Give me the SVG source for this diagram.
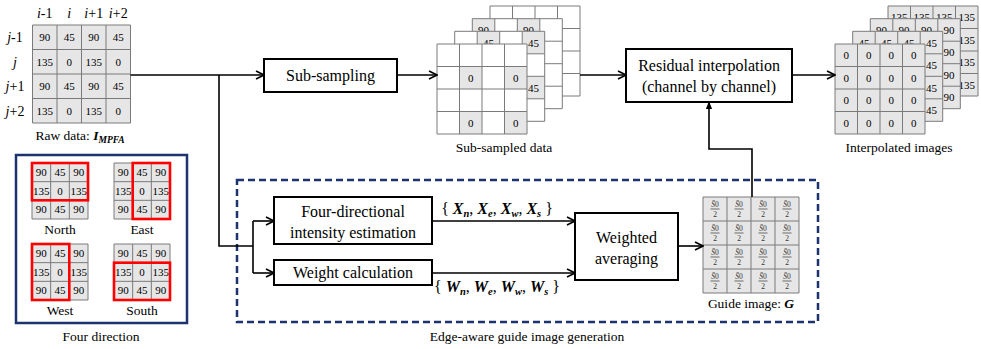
<svg xmlns="http://www.w3.org/2000/svg" xmlns:xlink="http://www.w3.org/1999/xlink" width="981" height="349" viewBox="0 0 981 349" font-family="'Liberation Serif', 'Times New Roman', serif">
<style>
text{font-family:"Liberation Serif","Times New Roman",serif;fill:#000}
.box{fill:#fff;stroke:#000;stroke-width:2}
.lbl{font-size:16px;text-anchor:middle}
.cap{font-size:13.5px;text-anchor:middle}
.num{font-size:11px;text-anchor:middle}
.it{font-style:italic}
.bi{font-style:italic;font-weight:bold}
.gcell{fill:#e6e6e6}
.gl{fill:none;stroke:#7a7a7a;stroke-width:1}
.wire{fill:none;stroke:#000;stroke-width:1.6}
.red{fill:none;stroke:#ff0000;stroke-width:2.6}
.navy{fill:none;stroke:#1c3370;stroke-width:2.5}
.frac{font-size:7.5px;text-anchor:middle;fill:#333}
</style>
<defs>
<marker id="ah" viewBox="0 0 10 10" refX="9" refY="5" markerWidth="10" markerHeight="10" markerUnits="userSpaceOnUse" orient="auto"><path d="M1,1 L9,5 L1,9" fill="none" stroke="#000" stroke-width="1.6"/></marker>
<marker id="ahf" viewBox="0 0 10 10" refX="9" refY="5" markerWidth="8" markerHeight="8" markerUnits="userSpaceOnUse" orient="auto"><path d="M0,1 L10,5 L0,9 z" fill="#000"/></marker>
<g id="g3">
<rect x="0" y="0" width="56" height="56" class="gcell"/>
<path class="gl" d="M0,0 H56 V56 H0 Z M18.67,0 V56 M37.33,0 V56 M0,18.67 H56 M0,37.33 H56"/>
<text class="num" x="9.33" y="13">90</text><text class="num" x="28" y="13">45</text><text class="num" x="46.67" y="13">90</text>
<text class="num" x="9.33" y="31.7">135</text><text class="num" x="28" y="31.7">0</text><text class="num" x="46.67" y="31.7">135</text>
<text class="num" x="9.33" y="50.3">90</text><text class="num" x="28" y="50.3">45</text><text class="num" x="46.67" y="50.3">90</text>
</g>
<path id="lines4" class="gl" d="M0,0 H90 V90 H0 Z M22.5,0 V90 M45,0 V90 M67.5,0 V90 M0,22.5 H90 M0,45 H90 M0,67.5 H90"/>
<g id="frac">
<text class="frac" x="0" y="-2.5"><tspan class="it">S̄</tspan>0</text>
<path d="M-4.5,0 H4.5" stroke="#333" stroke-width="0.7"/>
<text class="frac" x="0" y="8">2</text>
</g>
</defs>

<!-- Raw data -->
<g id="raw">
<rect x="32.5" y="25" width="98" height="98" class="gcell"/>
<path class="gl" d="M32.5,25 H130.5 V123 H32.5 Z M57,25 V123 M81.5,25 V123 M106,25 V123 M32.5,49.5 H130.5 M32.5,74 H130.5 M32.5,98.5 H130.5"/>
<g font-size="14" text-anchor="middle">
<text x="44.75" y="18"><tspan class="it">i</tspan>-1</text>
<text x="69.25" y="18" class="it">i</text>
<text x="93.75" y="18"><tspan class="it">i</tspan>+1</text>
<text x="118.25" y="18"><tspan class="it">i</tspan>+2</text>
<text x="15" y="42"><tspan class="it">j</tspan>-1</text>
<text x="15" y="66.5" class="it">j</text>
<text x="15" y="91"><tspan class="it">j</tspan>+1</text>
<text x="15" y="115.5"><tspan class="it">j</tspan>+2</text>
</g>
<text class="num" x="44.75" y="41.25">90</text><text class="num" x="69.25" y="41.25">45</text><text class="num" x="93.75" y="41.25">90</text><text class="num" x="118.25" y="41.25">45</text>
<text class="num" x="44.75" y="65.75">135</text><text class="num" x="69.25" y="65.75">0</text><text class="num" x="93.75" y="65.75">135</text><text class="num" x="118.25" y="65.75">0</text>
<text class="num" x="44.75" y="90.25">90</text><text class="num" x="69.25" y="90.25">45</text><text class="num" x="93.75" y="90.25">90</text><text class="num" x="118.25" y="90.25">45</text>
<text class="num" x="44.75" y="114.75">135</text><text class="num" x="69.25" y="114.75">0</text><text class="num" x="93.75" y="114.75">135</text><text class="num" x="118.25" y="114.75">0</text>
<text class="cap" x="80" y="140">Raw data: <tspan class="bi">I</tspan><tspan class="bi" font-size="9.5" dy="3">MPFA</tspan></text>
</g>

<!-- Four direction -->
<g id="fourdir">
<rect x="16" y="155" width="171" height="168" class="navy"/>
<use xlink:href="#g3" x="32" y="163"/>
<use xlink:href="#g3" x="114" y="163"/>
<use xlink:href="#g3" x="32" y="244"/>
<use xlink:href="#g3" x="114" y="244"/>
<rect class="red" x="32" y="163" width="56" height="37.3"/>
<rect class="red" x="132.7" y="163" width="37.3" height="56"/>
<rect class="red" x="32" y="244" width="37.3" height="56"/>
<rect class="red" x="114" y="262.7" width="56" height="37.3"/>
<text class="cap" x="60" y="234">North</text>
<text class="cap" x="142" y="234">East</text>
<text class="cap" x="60" y="315">West</text>
<text class="cap" x="142" y="315">South</text>
<text class="cap" x="101" y="341">Four direction</text>
</g>

<!-- Sub-sampled data stack -->
<g id="subsampled">
<g transform="translate(490,6)">
<rect width="90" height="90" fill="#fff"/>
<rect class="gcell" x="0" y="22.5" width="22.5" height="22.5"/><rect class="gcell" x="45" y="22.5" width="22.5" height="22.5"/>
<rect class="gcell" x="0" y="67.5" width="22.5" height="22.5"/><rect class="gcell" x="45" y="67.5" width="22.5" height="22.5"/>
<use xlink:href="#lines4"/>
</g>
<g transform="translate(472.3,18.7)">
<rect width="90" height="90" fill="#fff"/>
<rect class="gcell" x="0" y="0" width="22.5" height="22.5"/><rect class="gcell" x="45" y="0" width="22.5" height="22.5"/>
<rect class="gcell" x="0" y="45" width="22.5" height="22.5"/><rect class="gcell" x="45" y="45" width="22.5" height="22.5"/>
<use xlink:href="#lines4"/>
<text class="num" x="11.25" y="15.25">90</text><text class="num" x="56.25" y="15.25">90</text>
</g>
<g transform="translate(454.7,31.3)">
<rect width="90" height="90" fill="#fff"/>
<rect class="gcell" x="22.5" y="0" width="22.5" height="22.5"/><rect class="gcell" x="67.5" y="0" width="22.5" height="22.5"/>
<rect class="gcell" x="22.5" y="45" width="22.5" height="22.5"/><rect class="gcell" x="67.5" y="45" width="22.5" height="22.5"/>
<use xlink:href="#lines4"/>
<text class="num" x="33.75" y="15.25">45</text><text class="num" x="78.75" y="15.25">45</text>
<text class="num" x="78.75" y="60.25">45</text>
</g>
<g transform="translate(437,44)">
<rect width="90" height="90" fill="#fff"/>
<rect class="gcell" x="22.5" y="22.5" width="22.5" height="22.5"/><rect class="gcell" x="67.5" y="22.5" width="22.5" height="22.5"/>
<rect class="gcell" x="22.5" y="67.5" width="22.5" height="22.5"/><rect class="gcell" x="67.5" y="67.5" width="22.5" height="22.5"/>
<use xlink:href="#lines4"/>
<text class="num" x="33.75" y="37.75">0</text><text class="num" x="78.75" y="37.75">0</text>
<text class="num" x="33.75" y="82.75">0</text><text class="num" x="78.75" y="82.75">0</text>
</g>
<text class="cap" x="504" y="152">Sub-sampled data</text>
</g>

<!-- Interpolated images stack -->
<g id="interpolated">
<g transform="translate(888,6)">
<rect class="gcell" width="90" height="90"/><use xlink:href="#lines4"/>
<text class="num" x="11.25" y="15.25">135</text><text class="num" x="33.75" y="15.25">135</text><text class="num" x="56.25" y="15.25">135</text><text class="num" x="78.75" y="15.25">135</text>
<text class="num" x="78.75" y="37.75">135</text>
<text class="num" x="78.75" y="60.25">135</text>
<text class="num" x="78.75" y="82.75">135</text>
</g>
<g transform="translate(870.3,18.7)">
<rect class="gcell" width="90" height="90"/><use xlink:href="#lines4"/>
<text class="num" x="11.25" y="15.25">90</text><text class="num" x="33.75" y="15.25">90</text><text class="num" x="56.25" y="15.25">90</text><text class="num" x="78.75" y="15.25">90</text>
<text class="num" x="78.75" y="37.75">90</text>
<text class="num" x="78.75" y="60.25">90</text>
<text class="num" x="78.75" y="82.75">90</text>
</g>
<g transform="translate(852.7,31.3)">
<rect class="gcell" width="90" height="90"/><use xlink:href="#lines4"/>
<text class="num" x="11.25" y="15.25">45</text><text class="num" x="33.75" y="15.25">45</text><text class="num" x="56.25" y="15.25">45</text><text class="num" x="78.75" y="15.25">45</text>
<text class="num" x="78.75" y="37.75">45</text>
<text class="num" x="78.75" y="60.25">45</text>
<text class="num" x="78.75" y="82.75">45</text>
</g>
<g transform="translate(835,44)">
<rect class="gcell" width="90" height="90"/><use xlink:href="#lines4"/>
<text class="num" x="11.25" y="15.25">0</text><text class="num" x="33.75" y="15.25">0</text><text class="num" x="56.25" y="15.25">0</text><text class="num" x="78.75" y="15.25">0</text>
<text class="num" x="11.25" y="37.75">0</text><text class="num" x="33.75" y="37.75">0</text><text class="num" x="56.25" y="37.75">0</text><text class="num" x="78.75" y="37.75">0</text>
<text class="num" x="11.25" y="60.25">0</text><text class="num" x="33.75" y="60.25">0</text><text class="num" x="56.25" y="60.25">0</text><text class="num" x="78.75" y="60.25">0</text>
<text class="num" x="11.25" y="82.75">0</text><text class="num" x="33.75" y="82.75">0</text><text class="num" x="56.25" y="82.75">0</text><text class="num" x="78.75" y="82.75">0</text>
</g>
<text class="cap" x="899" y="152">Interpolated images</text>
</g>

<!-- Edge-aware guide generation region -->
<g id="edgeaware">
<rect x="237" y="180" width="581" height="142" fill="none" stroke="#1c3370" stroke-width="2.5" stroke-dasharray="7 4"/>
<text class="cap" x="527" y="341">Edge-aware guide image generation</text>
</g>

<!-- Boxes -->
<g id="subsampling">
<rect class="box" x="264" y="59" width="133" height="33"/>
<text class="lbl" x="330.5" y="81">Sub-sampling</text>
</g>
<g id="residual">
<rect class="box" x="626" y="49" width="166" height="53"/>
<text class="lbl" x="709" y="71">Residual interpolation</text>
<text class="lbl" x="709" y="92">(channel by channel)</text>
</g>
<g id="fourdirest">
<rect class="box" x="274" y="197" width="158" height="47"/>
<text class="lbl" x="353" y="217">Four-directional</text>
<text class="lbl" x="353" y="238">intensity estimation</text>
</g>
<g id="weightcalc">
<rect class="box" x="274" y="260" width="158" height="25"/>
<text class="lbl" x="353" y="278">Weight calculation</text>
</g>
<g id="weighted">
<rect class="box" x="575" y="213" width="103" height="67"/>
<text class="lbl" x="626.5" y="243">Weighted</text>
<text class="lbl" x="626.5" y="264">averaging</text>
</g>
<g id="guide">
<rect class="gcell" x="703" y="197" width="96" height="96"/>
<path class="gl" d="M703,197 H799 V293 H703 Z M727,197 V293 M751,197 V293 M775,197 V293 M703,221 H799 M703,245 H799 M703,269 H799"/>
<use xlink:href="#frac" x="715" y="209"/><use xlink:href="#frac" x="739" y="209"/><use xlink:href="#frac" x="763" y="209"/><use xlink:href="#frac" x="787" y="209"/>
<use xlink:href="#frac" x="715" y="233"/><use xlink:href="#frac" x="739" y="233"/><use xlink:href="#frac" x="763" y="233"/><use xlink:href="#frac" x="787" y="233"/>
<use xlink:href="#frac" x="715" y="257"/><use xlink:href="#frac" x="739" y="257"/><use xlink:href="#frac" x="763" y="257"/><use xlink:href="#frac" x="787" y="257"/>
<use xlink:href="#frac" x="715" y="281"/><use xlink:href="#frac" x="739" y="281"/><use xlink:href="#frac" x="763" y="281"/><use xlink:href="#frac" x="787" y="281"/>
<text class="cap" x="751" y="308">Guide image: <tspan class="bi">G</tspan></text>
</g>

<!-- Connector labels -->
<g id="setlabels" font-size="16" text-anchor="middle">
<text x="497" y="214">{ <tspan class="bi">X</tspan><tspan class="bi" font-size="10.5" dy="3">n</tspan><tspan dy="-3">, </tspan><tspan class="bi">X</tspan><tspan class="bi" font-size="10.5" dy="3">e</tspan><tspan dy="-3">, </tspan><tspan class="bi">X</tspan><tspan class="bi" font-size="10.5" dy="3">w</tspan><tspan dy="-3">, </tspan><tspan class="bi">X</tspan><tspan class="bi" font-size="10.5" dy="3">s</tspan><tspan dy="-3"> }</tspan></text>
<text x="497" y="292">{ <tspan class="bi">W</tspan><tspan class="bi" font-size="10.5" dy="3">n</tspan><tspan dy="-3">, </tspan><tspan class="bi">W</tspan><tspan class="bi" font-size="10.5" dy="3">e</tspan><tspan dy="-3">, </tspan><tspan class="bi">W</tspan><tspan class="bi" font-size="10.5" dy="3">w</tspan><tspan dy="-3">, </tspan><tspan class="bi">W</tspan><tspan class="bi" font-size="10.5" dy="3">s</tspan><tspan dy="-3"> }</tspan></text>
</g>

<!-- Connectors -->
<g id="connectors" class="wire">
<path class="wire" d="M130.5,75 H264" marker-end="url(#ah)"/>
<path class="wire" d="M219,75 V246 H253"/>
<path class="wire" d="M253,221 V273"/>
<path class="wire" d="M253,221 H274" marker-end="url(#ah)"/>
<path class="wire" d="M253,273 H274" marker-end="url(#ah)"/>
<path class="wire" d="M397,75 H437" marker-end="url(#ah)"/>
<path class="wire" d="M580,75 H626" marker-end="url(#ah)"/>
<path class="wire" d="M792,75 H835" marker-end="url(#ah)"/>
<path class="wire" d="M432,221 H575" marker-end="url(#ah)"/>
<path class="wire" d="M432,273 H575" marker-end="url(#ah)"/>
<path class="wire" d="M678,246 H703" marker-end="url(#ah)"/>
<path class="wire" d="M752,197 V149 H709 V102" marker-end="url(#ahf)"/>
</g>
</svg>
